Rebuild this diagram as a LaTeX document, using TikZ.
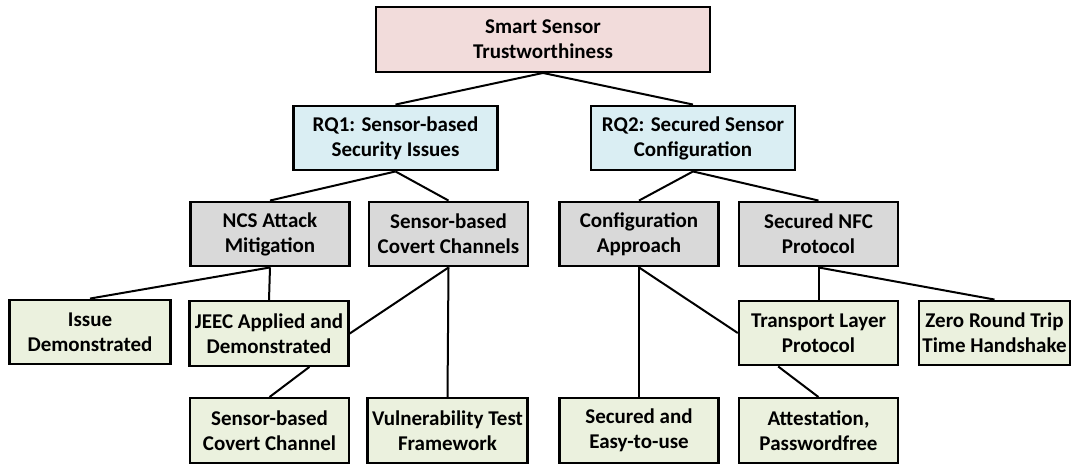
\documentclass[tikz,border=0pt]{standalone}
\usepackage{fontspec}
\setmainfont{Carlito}
\usetikzlibrary{calc}
\definecolor{rootfill}{HTML}{F2DCDB}
\definecolor{rqfill}{HTML}{DAEEF3}
\definecolor{topicfill}{HTML}{D9D9D9}
\definecolor{resultfill}{HTML}{EBF1DE}
\begin{document}
\begin{tikzpicture}[x=1pt,y=-1pt,
  box/.style={draw=black, line width=2.4pt, align=center, inner sep=0pt,
    font=\fontsize{21}{25}\selectfont\bfseries,
    minimum height=64.5pt, minimum width=159pt},
  root/.style={box, fill=rootfill, minimum width=333.5pt},
  rq/.style={box, fill=rqfill, minimum width=204pt},
  topic/.style={box, fill=topicfill},
  result/.style={box, fill=resultfill},
  link/.style={draw=black, line width=2pt}]
\useasboundingbox (0,0) rectangle (1073,467);

% level 0
\node[root] (top) at (543,39.5) {Smart Sensor\\Trustworthiness};
% research questions
\node[rq] (rq1) at (395.5,138) {RQ1: Sensor-based\\Security Issues};
\node[rq] (rq2) at (693,138) {RQ2: Secured Sensor\\Configuration};
% topics
\node[topic] (ncs) at (270,234) {NCS Attack\\Mitigation};
\node[topic] (scc) at (448.5,234) {Sensor-based\\Covert Channels};
\node[topic] (cfg) at (639,234) {Configuration\\Approach};
\node[topic] (nfc) at (818.5,234) {Secured NFC\\Protocol};
% results
\node[result, minimum width=161pt] (issue) at (90,332) {Issue\\Demonstrated};
\node[result] (jeec) at (269,333.5) {JEEC Applied and\\Demonstrated};
\node[result] (tlp) at (818.5,333) {Transport Layer\\Protocol};
\node[result, minimum width=150.5pt] (zero) at (994.5,333) {Zero Round Trip\\Time Handshake};
\node[result] (sbcc) at (269.5,430.5) {Sensor-based\\Covert Channel};
\node[result, minimum width=160pt] (vtf) at (447.5,430.5) {Vulnerability Test\\Framework};
\node[result] (sec) at (639,430.5) {Secured and\\Easy-to-use};
\node[result] (att) at (818.5,430.5) {Attestation,\\Passwordfree};

% connectors
\draw[link] (top.south) -- (rq1.north);
\draw[link] (top.south) -- (rq2.north);
\draw[link] (rq1.south) -- (ncs.north);
\draw[link] (rq1.south) -- (scc.north);
\draw[link] (rq2.south) -- (cfg.north);
\draw[link] (rq2.south) -- (nfc.north);
\draw[link] (ncs.south) -- (issue.north);
\draw[link] (ncs.south) -- (jeec.north);
\draw[link] (scc.south) -- (jeec.east);
\draw[link] (scc.south) -- (vtf.north);
\draw[link] ($(jeec.south)!0.5!(jeec.south east)$) -- (sbcc.north);
\draw[link] (cfg.south) -- (sec.north);
\draw[link] (cfg.south) -- (tlp.west);
\draw[link] (nfc.south) -- (tlp.north);
\draw[link] (nfc.south) -- (zero.north);
\draw[link] ($(tlp.south)!0.5!(tlp.south west)$) -- (att.north);
\end{tikzpicture}
\end{document}
